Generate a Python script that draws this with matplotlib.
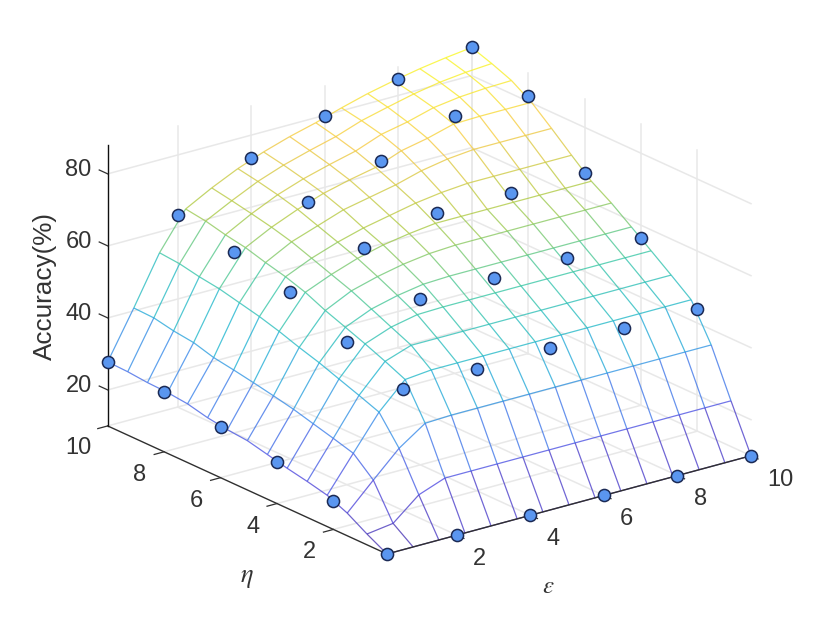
import matplotlib
matplotlib.use("Agg")
import matplotlib.pyplot as plt
import numpy as np
from matplotlib.colors import LinearSegmentedColormap, Normalize
from mpl_toolkits.mplot3d import proj3d
from mpl_toolkits.mplot3d.art3d import Line3DCollection

plt.rcParams["font.family"] = ["Liberation Sans", "DejaVu Sans"]
plt.rcParams["mathtext.fontset"] = "stix"

# measured samples
epsilon = [0.1, 2, 4, 6, 8, 10]
eta = [0.1, 2, 4, 6, 8, 10]
accuracy = [
    [10, 10, 10, 10, 10, 10],
    [17.8, 43.8, 43.9, 44, 44.1, 44],
    [21.5, 49.7, 56, 56.3, 56.4, 56.5],
    [24, 56.4, 62.9, 67.2, 67.3, 67.4],
    [26.6, 60.3, 68.5, 74.4, 81.5, 81.6],
    [27.8, 63.4, 73.6, 79.8, 84.6, 88],
]

# fitted surface, one row per mesh eta
mesh_eps = [0.1, 0.81, 1.51, 2.22, 2.93, 3.64, 4.34, 5.05, 5.76, 6.46, 7.17, 7.88, 8.59, 9.29, 10]
mesh_eta = [0.1, 0.81, 1.51, 2.22, 2.93, 3.64, 4.34, 5.05, 5.76, 6.46, 7.17, 7.88, 8.59, 9.29, 10]
mesh_acc = [
    [10, 10, 10, 10, 10, 10, 10, 10, 10, 10, 10, 10, 10, 10, 10],
    [13, 14, 20, 22.7, 22.7, 22.7, 22.7, 22.7, 22.7, 22.7, 22.7, 22.7, 22.7, 22.7, 22.7],
    [16.3, 23.5, 30.4, 35.4, 35.7, 35.7, 35.7, 35.7, 35.7, 35.7, 35.7, 35.7, 35.7, 35.7, 35.7],
    [18.7, 28.4, 37.9, 45, 45.7, 45.7, 45.7, 45.7, 45.7, 45.7, 45.7, 45.7, 45.7, 45.7, 45.7],
    [20, 30, 40, 47.5, 50, 50, 50, 50, 50, 50, 50, 50, 50, 50, 50],
    [21.1, 31.5, 42, 49.8, 52.5, 54, 54.2, 54.2, 54.2, 54.2, 54.2, 54.2, 54.2, 54.2, 54.2],
    [22.4, 33, 44, 51.9, 55, 56.8, 58, 58.3, 58.3, 58.3, 58.3, 58.3, 58.3, 58.3, 58.3],
    [23.7, 34.2, 45.7, 54, 57.5, 59.5, 61, 62, 62.4, 62.4, 62.4, 62.4, 62.4, 62.4, 62.4],
    [24.2, 35.3, 47.6, 56.5, 59.5, 62, 63.8, 65, 65.9, 65.9, 65.9, 65.9, 65.9, 65.9, 65.9],
    [25, 36.3, 49.2, 58.3, 61.5, 64, 66, 67.5, 69, 70, 70.6, 70.6, 70.6, 70.6, 70.6],
    [26.3, 37.2, 50.5, 59.7, 63.5, 66, 68.5, 70, 71.5, 73.5, 74.8, 75.5, 75.5, 75.5, 75.5],
    [26.9, 38.8, 51.8, 61.3, 65, 68, 70.5, 72.3, 73.8, 76.5, 78, 80, 80.2, 80.2, 80.2],
    [27.1, 39.5, 52.6, 62.3, 66.2, 69.5, 72, 74, 75.8, 78.5, 80, 82, 83, 83.5, 83.7],
    [27.6, 40.6, 53.7, 63.6, 67.3, 70.7, 73.3, 75.4, 77.3, 79.8, 81.6, 83.3, 84.6, 85.4, 85.9],
    [27.8, 40.8, 54.2, 64.4, 68.3, 71.7, 74.4, 76.7, 78.6, 80.8, 82.8, 84.4, 85.8, 86.9, 87.8],
]

floor_ticks = [2, 4, 6, 8, 10]
z_ticks = [20, 40, 60, 80]
z_min, z_max = 10, 88
low = 0.1
high = 10

parula = LinearSegmentedColormap.from_list(
    "parula_like",
    ["#3e26a8", "#4640e0", "#2f80ea", "#12b1cf", "#2fc4a0", "#a9c739", "#f6c63a", "#f9fb15"],
)
grid_color = "#e8e8e8"
axis_color = "#303030"
text_color = "#333333"


def pixel(axis, x, y, z):
    px, py, _ = proj3d.proj_transform(x, y, z, axis.get_proj())
    return axis.transData.transform((px, py))


def label_at(axis, x, y, z, text):
    # tick labels sit at a 3D spot but are plain figure text
    px, py = pixel(axis, x, y, z)
    figure.text(px / 830, py / 623, text, ha="center", va="center", fontsize=17, color=text_color)


def draw_grid(axis):
    style = dict(color=grid_color, linewidth=1.1, zorder=1)
    for tick in floor_ticks:
        axis.plot([tick, tick], [low, high], [z_min, z_min], **style)
        axis.plot([low, high], [tick, tick], [z_min, z_min], **style)
        axis.plot([tick, tick], [high, high], [z_min, z_max], **style)
        axis.plot([high, high], [tick, tick], [z_min, z_max], **style)
    for tick in z_ticks:
        axis.plot([low, high], [high, high], [tick, tick], **style)
        axis.plot([high, high], [low, high], [tick, tick], **style)


def draw_mesh(axis):
    values = np.asarray(mesh_acc)
    xs, ys = np.meshgrid(mesh_eps, mesh_eta)
    points = np.dstack([xs, ys, values])
    segments = np.concatenate(
        [
            np.stack([points[:, :-1], points[:, 1:]], axis=2).reshape(-1, 2, 3),
            np.stack([points[:-1, :], points[1:, :]], axis=2).reshape(-1, 2, 3),
        ]
    )
    lines = Line3DCollection(
        segments,
        cmap=parula,
        norm=Normalize(z_min, z_max),
        linewidths=0.9,
        alpha=0.75,
        zorder=2,
    )
    lines.set_array(segments[:, :, 2].mean(axis=1))
    axis.add_collection3d(lines)


def draw_axes(axis):
    axis.plot([low, high], [low, low], [z_min, z_min], color=axis_color, lw=1.0, zorder=3)
    axis.plot([low, low], [low, high], [z_min, z_min], color=axis_color, lw=1.0, zorder=3)
    axis.plot([low, low], [high, high], [z_min, z_max], color="#101010", lw=1.0, zorder=3)
    for tick in floor_ticks:
        axis.plot([tick, tick], [low, low - 0.25], [z_min, z_min], color=axis_color, lw=0.9, zorder=3)
        axis.plot([low, low - 0.27], [tick, tick], [z_min, z_min], color=axis_color, lw=0.9, zorder=3)
        eps_dx, eps_dy = (-0.39, -1.54) if tick == 10 else (-0.5, -1.46)
        eta_dx, eta_dy = (-1.32, -0.69) if tick == 10 else (-1.27, -0.8)
        label_at(axis, tick + eps_dx, low + eps_dy, z_min, str(tick))
        label_at(axis, low + eta_dx, tick + eta_dy, z_min, str(tick))
    for tick in z_ticks:
        axis.plot([low, low], [high, high + 0.3], [tick, tick], color=axis_color, lw=0.9, zorder=3)
        label_at(axis, low - 0.5, high + 0.38, tick + 1.1, str(tick))


figure = plt.figure(figsize=(8.3, 6.23), dpi=100)
ax = figure.add_axes([-0.2, -0.2, 1.4, 1.4], projection="3d", proj_type="ortho", computed_zorder=False)
ax.view_init(elev=20.6, azim=-127.5)
ax.set_xlim(low, high, view_margin=0)
ax.set_ylim(low, high, view_margin=0)
ax.set_zlim(z_min, z_max, view_margin=0)
ax.set_box_aspect((1, 1, 0.654), zoom=1.0)
ax.set_axis_off()

# scale and shift the box so its bottom corners land where the reference has them
figure.canvas.draw()
left = pixel(ax, low, low, z_min)
right = pixel(ax, high, low, z_min)
ax.set_box_aspect((1, 1, 0.654), zoom=364 / (right[0] - left[0]))
figure.canvas.draw()
left = pixel(ax, low, low, z_min)
ax.set_position([-0.2 + (387 - left[0]) / 830, -0.2 + (623 - 554 - left[1]) / 623, 1.4, 1.4])
figure.canvas.draw()

draw_grid(ax)
draw_mesh(ax)
draw_axes(ax)

xs, ys = np.meshgrid(epsilon, eta)
ax.scatter(xs.ravel(), ys.ravel(), np.asarray(accuracy).ravel(), s=76, c="#5a96f0",
           edgecolors="#1b2a55", linewidths=1.1, depthshade=False, zorder=4)

figure.text(45 / 830, 1 - 286 / 623, "Accuracy(%)", rotation=90, ha="center", va="center",
            fontsize=18.8, color=text_color)
figure.text(247 / 830, 1 - 578 / 623, r"$\eta$", ha="center", va="center", fontsize=19,
            color=text_color)
figure.text(548 / 830, 1 - 586 / 623, r"$\epsilon$", ha="center", va="center", fontsize=18,
            color=text_color)

figure.savefig("out.png", dpi=100)
